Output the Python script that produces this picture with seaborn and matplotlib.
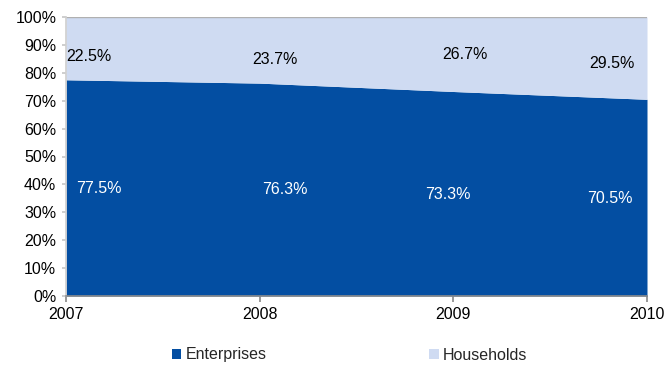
import matplotlib
matplotlib.use("Agg")
import matplotlib.pyplot as plt
import seaborn as sns
import numpy as np
from matplotlib.ticker import PercentFormatter

years = [2007, 2008, 2009, 2010]
enterprises = [77.5, 76.3, 73.3, 70.5]
households = [22.5, 23.7, 26.7, 29.5]
series_names = ["Enterprises", "Households"]
colors = ["#034EA2", "#CFDBF2"]

sns.set_theme(style="white")
plt.rcParams["font.family"] = ["Liberation Sans", "DejaVu Sans"]

fig = plt.figure(figsize=(6.68, 3.65), dpi=100)
ax = fig.add_axes([66 / 668, 1 - 296 / 365, (647 - 66) / 668, (296 - 17) / 365])

ax.stackplot(years, enterprises, households, colors=colors, labels=series_names, linewidth=0)

# value labels inside each band
ent_pos = [(2007.17, 38.7), (2008.13, 38.0), (2008.97, 36.5), (2009.81, 35.0)]
hh_pos = [(2007.12, 86.0), (2008.08, 84.6), (2009.06, 86.4), (2009.82, 83.5)]
for v, (x, y) in zip(enterprises, ent_pos):
    ax.text(x, y, f"{v:.1f}%", color="white", fontsize=11.5, ha="center", va="center")
for v, (x, y) in zip(households, hh_pos):
    ax.text(x, y, f"{v:.1f}%", color="black", fontsize=11.5, ha="center", va="center")

ax.set_xlim(2007, 2010)
ax.set_ylim(0, 100)
ax.set_xticks(years)
ax.set_xticklabels([str(y) for y in years])
ax.set_yticks(np.arange(0, 101, 10))
ax.yaxis.set_major_formatter(PercentFormatter(decimals=0))

for side in ["top", "right"]:
    ax.spines[side].set_visible(False)
ax.spines["left"].set_color("#D0D0D0")
ax.spines["bottom"].set_color("#8C8C8C")
ax.spines["bottom"].set_linewidth(1.2)
ax.tick_params(axis="y", which="major", left=True, length=3, color="#C8C8C8",
               labelsize=11.5, labelcolor="black", pad=4)
ax.tick_params(axis="x", which="major", bottom=True, length=4, color="#8C8C8C",
               labelsize=11.5, labelcolor="black", pad=4)
ax.axhline(100, color="#B0B0B0", linewidth=1)

handles, labels = ax.get_legend_handles_labels()
fig.legend(handles, labels, loc="center left", bbox_to_anchor=(159 / 668, 1 - 355 / 365), ncol=2,
           frameon=False, fontsize=11.5, handlelength=0.6, handleheight=0.6,
           handletextpad=0.25, columnspacing=10.2, borderpad=0.3)

fig.savefig("out.png", dpi=100)
